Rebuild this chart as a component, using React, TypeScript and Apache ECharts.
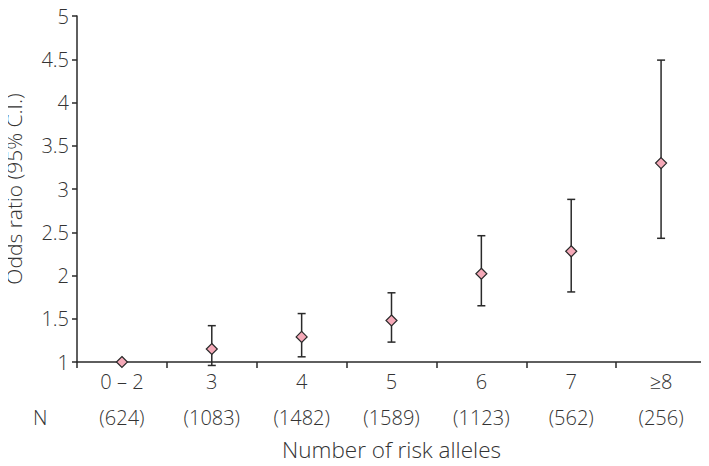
import React, { useEffect, useRef } from "react";
import * as echarts from "echarts";

const categories = ["0 – 2", "3", "4", "5", "6", "7", "≥8"];
const nCounts = ["624", "1083", "1482", "1589", "1123", "562", "256"];
const oddsRatio = [1.0, 1.15, 1.29, 1.48, 2.02, 2.28, 3.3];
const ciLower = [1.0, 0.96, 1.06, 1.23, 1.65, 1.81, 2.43];
const ciUpper = [1.0, 1.42, 1.56, 1.8, 2.46, 2.88, 4.49];
const yTicks = [1, 1.5, 2, 2.5, 3, 3.5, 4, 4.5, 5];

const FONT = "'Open Sans', 'Noto Sans', sans-serif";
const TEXT = "#333333";
const LINE = "#2a2a2a";
const FS = 20;

export default function App() {
  const ref = useRef<HTMLDivElement>(null);
  useEffect(() => {
    if (!ref.current) return;
    const chart = echarts.init(ref.current, undefined, { renderer: "svg" });
    const errData = categories.map((_, i) => [i, ciLower[i], ciUpper[i]]);
    const labelBase = { fontFamily: FONT, fontSize: FS, color: TEXT, fontWeight: 300 };
    chart.setOption({
      animation: false,
      grid: { left: 77, right: 3, top: 16, bottom: 104, outerBoundsMode: "none", containLabel: false },
      xAxis: [
        {
          type: "category",
          data: categories,
          boundaryGap: true,
          name: "Number of risk alleles",
          nameLocation: "middle",
          nameGap: 76,
          nameMoveOverlap: false,
          nameTextStyle: { fontFamily: FONT, fontSize: 22.5, color: TEXT, fontWeight: 300 },
          axisLine: { lineStyle: { color: LINE, width: 1.5 } },
          axisTick: { show: true, length: 6, lineStyle: { color: LINE, width: 1.5 } },
          axisLabel: { ...labelBase, margin: 9 },
        },
        {
          type: "category",
          data: nCounts,
          position: "bottom",
          boundaryGap: true,
          axisLine: { show: false },
          axisTick: { show: false },
          axisLabel: { ...labelBase, margin: 45, formatter: (v: string) => `(${v})` },
        },
      ],
      yAxis: {
        type: "value",
        min: 1,
        max: 5,
        interval: 0.5,
        name: "Odds ratio (95% C.I.)",
        nameLocation: "middle",
        nameGap: 53,
        nameMoveOverlap: false,
        nameTextStyle: { fontFamily: FONT, fontSize: 21, color: TEXT, fontWeight: 300 },
        splitLine: { show: false },
        axisLine: { show: true, lineStyle: { color: LINE, width: 1.5 } },
        axisTick: { show: true, length: 5, lineStyle: { color: LINE, width: 1.5 } },
        axisLabel: {
          ...labelBase,
          margin: 8,
          formatter: (v: number) => (yTicks.includes(v) ? String(v) : ""),
        },
      },
      graphic: [
        {
          type: "text",
          left: 33,
          top: 407,
          style: { text: "N", fontFamily: FONT, fontSize: FS, fill: TEXT, fontWeight: 300 },
        },
      ],
      series: [
        {
          type: "custom",
          data: errData,
          z: 2,
          renderItem: (params: any, api: any) => {
            const x = api.value(0);
            const lo = api.coord([x, api.value(1)]);
            const hi = api.coord([x, api.value(2)]);
            const hw = 4;
            const style = { stroke: LINE, lineWidth: 1.5 };
            return {
              type: "group",
              children: [
                { type: "line", shape: { x1: lo[0], y1: lo[1], x2: hi[0], y2: hi[1] }, style },
                { type: "line", shape: { x1: lo[0] - hw, y1: lo[1], x2: lo[0] + hw, y2: lo[1] }, style },
                { type: "line", shape: { x1: hi[0] - hw, y1: hi[1], x2: hi[0] + hw, y2: hi[1] }, style },
              ],
            };
          },
        },
        {
          type: "scatter",
          data: oddsRatio,
          symbol: "diamond",
          symbolSize: 11,
          z: 3,
          itemStyle: { color: "#f5a9b8", borderColor: "#2a2a2a", borderWidth: 1.2, opacity: 1 },
        },
      ],
    });
    return () => chart.dispose();
  }, []);
  return <div ref={ref} style={{ width: 709, height: 466, margin: -8 }} />;
}
